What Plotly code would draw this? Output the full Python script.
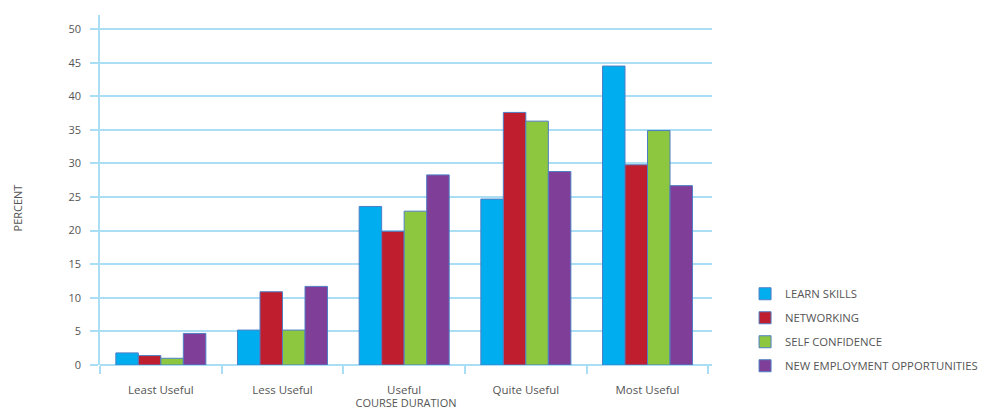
import plotly.graph_objects as go

categories = ["Least Useful", "Less Useful", "Useful", "Quite Useful", "Most Useful"]
learn_skills = [1.8, 5.2, 23.6, 24.7, 44.5]
networking = [1.4, 10.9, 19.9, 37.6, 29.8]
self_confidence = [1.0, 5.2, 22.9, 36.3, 34.9]
new_employment = [4.7, 11.7, 28.3, 28.8, 26.7]

series = [
    ("LEARN SKILLS", learn_skills, "#00aeef"),
    ("NETWORKING", networking, "#be1e2d"),
    ("SELF CONFIDENCE", self_confidence, "#8dc63f"),
    ("NEW EMPLOYMENT OPPORTUNITIES", new_employment, "#7f3f98"),
]

grid = "#a9def5"
text_col = "#555555"
font_family = "Open Sans, Liberation Sans, sans-serif"

fig = go.Figure()
for i, (name, vals, col) in enumerate(series):
    fig.add_trace(go.Bar(
        x=categories, y=vals, name=name, legendgroup=f"g{i}",
        marker=dict(color=col, line=dict(color="#4f7fc4", width=1)),
    ))

fig.update_layout(
    width=989, height=410,
    margin=dict(l=100, r=277, t=15, b=45, autoexpand=False),
    paper_bgcolor="white", plot_bgcolor="white",
    barmode="group", bargap=0.26, bargroupgap=0,
    font=dict(family=font_family, size=11, color=text_col),
    legend=dict(
        x=1.054, y=0.245, xanchor="left", yanchor="top",
        font=dict(size=11.3, color=text_col),
        tracegroupgap=5, itemwidth=30,
    ),
    xaxis=dict(
        range=[-0.5, 4.53], tickson="boundaries", ticks="outside",
        ticklen=8, tickcolor=grid, tickwidth=1.5, showgrid=False,
        showline=False, ticklabelstandoff=16,
        tickfont=dict(size=11.5, color=text_col),
        title=dict(text="COURSE DURATION", standoff=2,
                   font=dict(size=11, color=text_col)),
    ),
    yaxis=dict(
        range=[0, 52.1], tickvals=list(range(0, 51, 5)),
        ticks="outside", ticklen=8, tickcolor=grid, tickwidth=1.5,
        gridcolor=grid, gridwidth=1.5, showline=True, linecolor=grid,
        linewidth=1.5, zeroline=True, zerolinecolor=grid, zerolinewidth=1.5,
        ticklabelstandoff=7, tickfont=dict(size=11, color=text_col),
    ),
    annotations=[dict(
        text="PERCENT", xref="paper", yref="paper", x=-0.134, y=0.45,
        textangle=-90, showarrow=False, xanchor="center", yanchor="middle",
        font=dict(size=11, color=text_col),
    )],
)

fig.write_html("out.html")
